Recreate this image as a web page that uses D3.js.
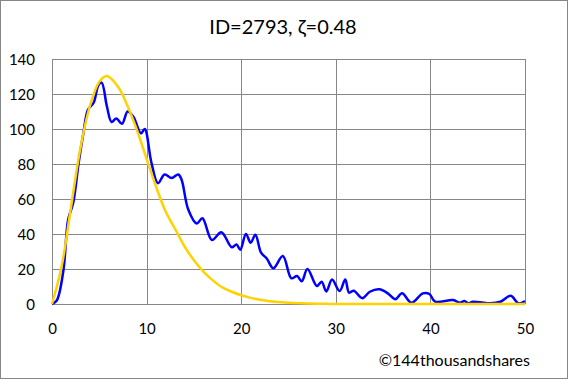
<!DOCTYPE html>
<html><head><meta charset="utf-8">
<script src="https://cdn.jsdelivr.net/npm/d3@7"></script>
<style>
body{margin:0;background:#fff;}
svg{display:block;font-family:Lato,"Open Sans",sans-serif;}
</style></head>
<body><svg id="c" width="568" height="379"></svg>
<script>
const title = "ID=2793, ζ=0.48";
const credit = "©144thousandshares";
const xTicks = [0,10,20,30,40,50];
const yTicks = [0,20,40,60,80,100,120,140];

// observed series (blue)
const obsX = [0,0.5,1.2,1.7,2.25,2.8,3.3,3.8,4.4,4.9,5.25,5.8,6.3,6.8,7.4,8.0,8.6,9.4,9.8,10.5,11.2,11.9,12.65,13.35,13.7,14.4,15.3,15.9,16.9,17.9,19.0,19.5,19.9,20.5,21.0,21.5,22.1,22.7,23.4,24.4,25.3,25.9,26.4,27.0,28.0,28.5,29.0,29.6,30.4,31.0,31.4,31.9,32.8,33.6,34.6,35.5,36.3,37.0,38.0,39.2,39.9,40.5,42.4,43.1,43.6,44.0,44.5,45.6,46.3,47.4,48.5,49.3,50];
const obsY = [0,2,19,48,58,80,97,111,115,125,126.5,113,104,106,103,110,107,97.5,100,81,69,74,72,74,71,54,46,49,36.6,41,32.4,34,31,40,35,39.6,29.3,26,20.4,27.4,14.7,16,13,20,10.3,12.7,7.2,14,7.4,14,6.5,7.6,3.3,7,8.4,6.1,2.7,6.1,0.7,6.1,5.7,1.3,2.3,0.7,1.7,0.4,1.3,0.7,0.4,1.3,4.7,0.4,1.7];

// fitted series (gold)
const fitX = [0,1,2,3,4,5,5.8,7,8,9,10,11,12,13,14,15,16,17,18,19,20,21,22,23,24,25,26,27,28,29,30,35,40,45,50];
const fitY = [0,21,55,89,113,127,130.3,124,113,99,83,67,53,43,33,25,18.5,13.5,9.5,7,5,3.5,2.4,1.6,1.1,0.7,0.5,0.3,0.2,0.1,0,0,0,0,0];

const svg = d3.select("#c");
svg.append("rect").attr("x",0.5).attr("y",0.5).attr("width",567).attr("height",378)
  .attr("fill","#fff").attr("stroke","#878787");

const x = d3.scaleLinear().domain([0,50]).range([52,525]);
const y = d3.scaleLinear().domain([0,140]).range([304,59]);

// gridlines
const g = svg.append("g");
g.selectAll("line.h").data(yTicks).join("line")
  .attr("x1",x(0)).attr("x2",x(50)).attr("y1",d=>Math.round(y(d))+0.5).attr("y2",d=>Math.round(y(d))+0.5)
  .attr("stroke","#878787").attr("stroke-width",1);
g.selectAll("line.v").data(xTicks).join("line")
  .attr("y1",y(0)).attr("y2",y(140)).attr("x1",d=>Math.round(x(d))+0.5).attr("x2",d=>Math.round(x(d))+0.5)
  .attr("stroke","#878787").attr("stroke-width",1);

// axes labels
const ax = svg.append("g").attr("transform",`translate(0,${y(0)})`)
  .call(d3.axisBottom(x).tickValues(xTicks).tickSize(0).tickPadding(19).tickFormat(d3.format("d")));
ax.select(".domain").remove();
const ay = svg.append("g").attr("transform",`translate(${x(0)},1)`)
  .call(d3.axisLeft(y).tickValues(yTicks).tickSize(0).tickPadding(17).tickFormat(d3.format("d")));
ay.select(".domain").remove();
svg.selectAll(".tick text").attr("font-family","Lato,sans-serif").attr("font-size",15).attr("fill","#000");

const fitData = fitX.map((v,i)=>[v,fitY[i]]);
const obsData = obsX.map((v,i)=>[v,obsY[i]]);
const line = d3.line().x(d=>x(d[0])).y(d=>y(d[1])).curve(d3.curveCatmullRom.alpha(0.5));

svg.append("path").datum(obsData).attr("d",line).attr("fill","none")
  .attr("stroke","#0000ff").attr("stroke-width",2.5).attr("stroke-linejoin","round");
svg.append("path").datum(fitData).attr("d",line).attr("fill","none")
  .attr("stroke","#ffd200").attr("stroke-width",2.5).attr("stroke-linejoin","round");

svg.append("text").attr("x",283).attr("y",34).attr("text-anchor","middle")
  .attr("font-size",20).attr("fill","#000").text(title);
svg.append("text").attr("x",530).attr("y",366).attr("text-anchor","end")
  .attr("font-size",16).attr("fill","#000").text(credit);
</script></body></html>
